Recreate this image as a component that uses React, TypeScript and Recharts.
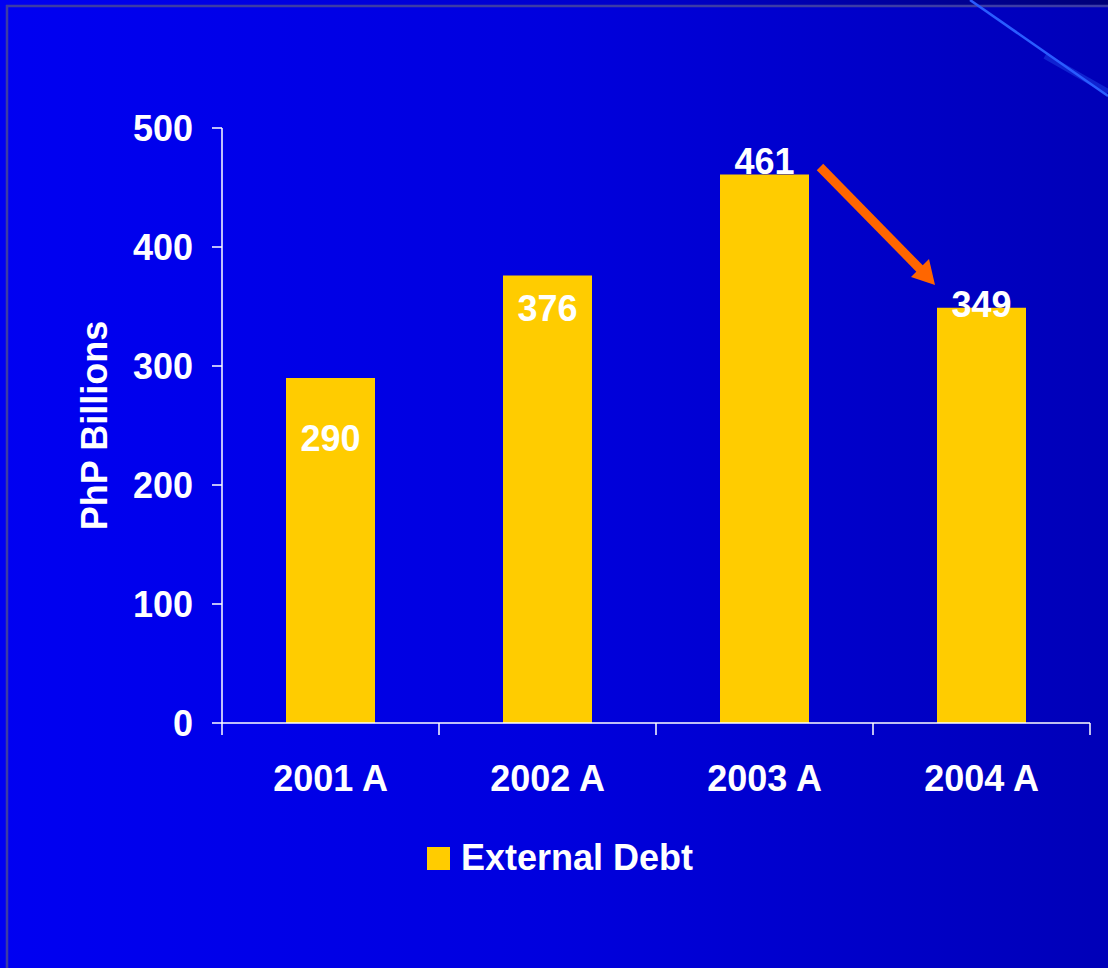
import React from 'react';
import { BarChart, Bar, XAxis, YAxis, Legend, LabelList } from 'recharts';

// values
const CATEGORIES = ['2001 A', '2002 A', '2003 A', '2004 A'];
const EXTERNAL_DEBT = [290, 376, 461, 349];
const Y_TICKS = [0, 100, 200, 300, 400, 500];
const SERIES_NAME = 'External Debt';
const Y_LABEL = 'PhP Billions';

const data = CATEGORIES.map((name, i) => ({ name, debt: EXTERNAL_DEBT[i] }));

// styling
const W = 1108;
const H = 968;
const BAR_COLOR = '#ffcc00';
const TEXT = '#ffffff';
const FONT = '"Liberation Sans", Arial, sans-serif';
const FS = 36;
const X_TICK_SIZE = 12;
const X_TICK_MARGIN = 30;
// where each value label sits, measured from the bar top (px, centre of text)
const LABEL_DY = [60, 32, -13, -4];

const XTick = (props: any) => {
  const { x, y, payload, index } = props;
  const half = payload && payload.offset ? payload.offset : 108.5;
  const axisY = y - X_TICK_SIZE - X_TICK_MARGIN;
  return (
    <g>
      <line x1={x - half} x2={x - half} y1={axisY} y2={axisY + X_TICK_SIZE} stroke={TEXT} strokeWidth={1.5} />
      {index === CATEGORIES.length - 1 && (
        <line x1={x + half} x2={x + half} y1={axisY} y2={axisY + X_TICK_SIZE} stroke={TEXT} strokeWidth={1.5} />
      )}
      <text x={x} y={y} dy="0.71em" textAnchor="middle" fill={TEXT} fontSize={FS} fontWeight="bold" fontFamily={FONT}>
        {payload.value}
      </text>
    </g>
  );
};

const ValueLabel = (props: any) => {
  const { x, y, width, value, index } = props;
  return (
    <text
      x={x + width / 2}
      y={y + LABEL_DY[index]}
      dy="0.36em"
      textAnchor="middle"
      fill={TEXT}
      fontSize={FS}
      fontWeight="bold"
      fontFamily={FONT}
    >
      {value}
    </text>
  );
};

const LegendContent = (props: any) => (
  <div style={{ display: 'flex', alignItems: 'center', height: 40 }}>
    {(props.payload || []).map((p: any) => (
      <div key={p.value} style={{ display: 'flex', alignItems: 'center' }}>
        <span style={{ display: 'inline-block', width: 23, height: 23, background: p.color }} />
        <span style={{ marginLeft: 11, color: TEXT, fontSize: FS, fontWeight: 'bold', fontFamily: FONT, lineHeight: '40px' }}>
          {p.value}
        </span>
      </div>
    ))}
  </div>
);

const YLabel = (props: any) => {
  const { viewBox } = props;
  const cy = viewBox.y + viewBox.height / 2;
  const bx = 107;
  return (
    <text
      x={bx}
      y={cy}
      transform={`rotate(-90, ${bx}, ${cy})`}
      textAnchor="middle"
      fill={TEXT}
      fontSize={FS}
      fontWeight="bold"
      fontFamily={FONT}
    >
      {Y_LABEL}
    </text>
  );
};

export default function App() {
  return (
    <div
      style={{
        position: 'absolute',
        left: 0,
        top: 0,
        width: W,
        height: H,
        overflow: 'hidden',
        background: 'linear-gradient(to right, #0000f2 0%, #0000de 50%, #0000b8 100%)',
      }}
    >
      {/* slide frame and decoration */}
      <svg width={W} height={H} style={{ position: 'absolute', left: 0, top: 0 }}>
        <defs>
          <linearGradient id="topStrip" x1="0" y1="0" x2="1" y2="0">
            <stop offset="0%" stopColor="#0000f2" />
            <stop offset="60%" stopColor="#0000c8" />
            <stop offset="100%" stopColor="#000078" />
          </linearGradient>
        </defs>
        <rect x={0} y={0} width={W} height={5} fill="url(#topStrip)" />
        <line x1={6} y1={6} x2={W} y2={6} stroke="#3c3ca6" strokeWidth={2.5} />
        <line x1={7} y1={5} x2={7} y2={H} stroke="#3c3ca6" strokeWidth={2.5} />
        <line x1={1045} y1={56} x2={1108} y2={92} stroke="#1a3ae0" strokeWidth={6} opacity={0.6} />
        <line x1={970} y1={0} x2={1108} y2={96} stroke="#2a5cff" strokeWidth={2.5} />
      </svg>

      <div style={{ position: 'absolute', left: 0, top: 0 }}>
        <BarChart width={W} height={H} data={data} margin={{ top: 128, right: 18, left: 82, bottom: 125 }}>
          <XAxis
            dataKey="name"
            height={80}
            axisLine={{ stroke: TEXT, strokeWidth: 1.5 }}
            tickLine={false}
            tickSize={X_TICK_SIZE}
            tickMargin={X_TICK_MARGIN}
            tick={<XTick />}
            interval={0}
          />
          <YAxis
            width={140}
            domain={[0, 500]}
            ticks={Y_TICKS}
            interval={0}
            axisLine={{ stroke: TEXT, strokeWidth: 1.5 }}
            tickLine={{ stroke: TEXT, strokeWidth: 1.5 }}
            tickSize={10}
            tickMargin={19}
            tick={{ fill: TEXT, fontSize: FS, fontWeight: 'bold', fontFamily: FONT }}
            label={<YLabel />}
          />
          <Legend
            verticalAlign="bottom"
            content={<LegendContent />}
            wrapperStyle={{ left: 427, top: 838, width: 'auto', height: 40 }}
          />
          <Bar dataKey="debt" name={SERIES_NAME} fill={BAR_COLOR} barSize={89} isAnimationActive={false}>
            <LabelList dataKey="debt" content={<ValueLabel />} />
          </Bar>
        </BarChart>
      </div>

      {/* orange arrow from 2003 to 2004 */}
      <svg width={W} height={H} style={{ position: 'absolute', left: 0, top: 0, pointerEvents: 'none' }}>
        <line x1={820} y1={167} x2={922} y2={271} stroke="#ff6600" strokeWidth={9} />
        <polygon points="935,285 911,277 929,259" fill="#ff6600" />
      </svg>
    </div>
  );
}
